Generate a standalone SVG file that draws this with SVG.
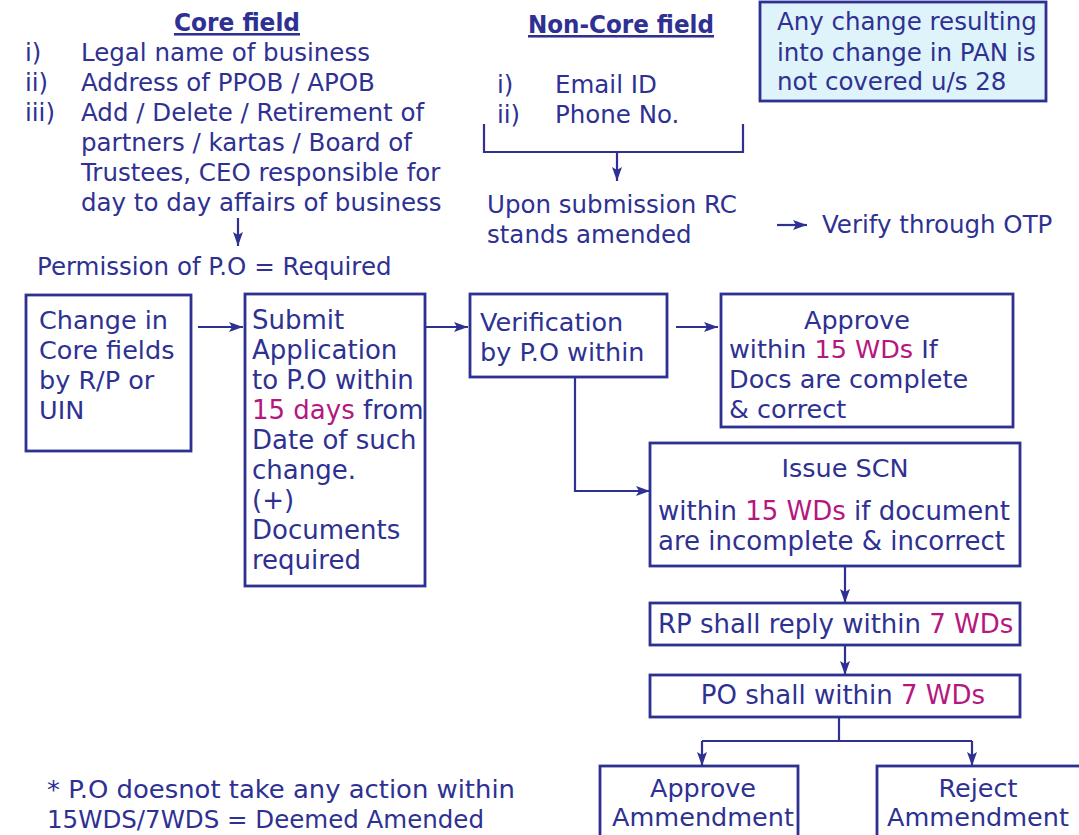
<svg xmlns="http://www.w3.org/2000/svg" width="1079" height="835" viewBox="0 0 1079 835">
<defs>
<marker id="ah" viewBox="0 0 14 10" refX="14" refY="5" markerWidth="14" markerHeight="10" markerUnits="userSpaceOnUse" orient="auto"><path d="M0,0 L14,5 L0,10 L3,5 z" fill="#2e3192"/></marker>
<style>
text{font-family:"DejaVu Sans","Liberation Sans",sans-serif;font-size:24.5px;fill:#2e3192}
.h{font-weight:bold;text-decoration:underline;font-size:25.5px}
.b{font-size:25.5px}
.l{font-size:26px}
.m{fill:#b5177f}
.box{fill:#fff;stroke:#2e3192;stroke-width:2.8}
.info{fill:#dff3fb;stroke:#2e3192;stroke-width:2.8}
.c{fill:none;stroke:#2e3192;stroke-width:2.2}
.mid{text-anchor:middle}
</style>
</defs>
<rect width="1079" height="835" fill="#fff"/>

<g id="core-field">
<text class="h" x="174" y="31" textLength="126" lengthAdjust="spacingAndGlyphs">Core field</text>
<text x="25" y="61">i)</text><text x="81" y="61">Legal name of business</text>
<text x="25" y="91">ii)</text><text x="81" y="91">Address of PPOB / APOB</text>
<text x="25" y="121">iii)</text><text x="81" y="121">Add / Delete / Retirement of</text>
<text x="81" y="151">partners / kartas / Board of</text>
<text x="81" y="181">Trustees, CEO responsible for</text>
<text x="81" y="211">day to day affairs of business</text>
<text x="37" y="275">Permission of P.O = Required</text>
</g>

<g id="non-core-field">
<text class="h" x="528" y="33" textLength="186" lengthAdjust="spacingAndGlyphs">Non-Core field</text>
<text x="497" y="93">i)</text><text x="555" y="93">Email ID</text>
<text x="497" y="123">ii)</text><text x="555" y="123">Phone No.</text>
<text x="487" y="213">Upon submission RC</text>
<text x="487" y="243">stands amended</text>
<text x="822" y="233">Verify through OTP</text>
</g>

<g id="pan-note">
<rect class="info" x="760" y="2" width="286" height="99"/>
<text x="777" y="30">Any change resulting</text>
<text x="777" y="61">into change in PAN is</text>
<text x="777" y="90">not covered u/s 28</text>
</g>

<g id="change-core">
<rect class="box" x="26" y="295" width="165" height="156"/>
<text class="b" x="39" y="329">Change in</text>
<text class="b" x="39" y="359">Core fields</text>
<text class="b" x="39" y="389">by R/P or</text>
<text class="b" x="39" y="419">UIN</text>
</g>

<g id="submit">
<rect class="box" x="245" y="294" width="180" height="292"/>
<text class="l" x="252" y="329">Submit</text>
<text class="l" x="252" y="359">Application</text>
<text class="l" x="252" y="389">to P.O within</text>
<text class="l" x="252" y="419"><tspan class="m">15 days</tspan> from</text>
<text class="l" x="252" y="449">Date of such</text>
<text class="l" x="252" y="479">change.</text>
<text class="l" x="252" y="509">(+)</text>
<text class="l" x="252" y="539">Documents</text>
<text class="l" x="252" y="569">required</text>
</g>

<g id="verification">
<rect class="box" x="470" y="294" width="197" height="83"/>
<text class="b" x="480" y="331">Verification</text>
<text class="b" x="480" y="361">by P.O within</text>
</g>

<g id="approve-15">
<rect class="box" x="721" y="294" width="292" height="133"/>
<text class="b mid" x="857" y="329">Approve</text>
<text class="b" x="729" y="358">within <tspan class="m">15 WDs</tspan> If</text>
<text class="b" x="729" y="388">Docs are complete</text>
<text class="b" x="729" y="418">&amp; correct</text>
</g>

<g id="issue-scn">
<rect class="box" x="650" y="443" width="370" height="123"/>
<text class="b mid" x="845" y="477">Issue SCN</text>
<text class="l" x="658" y="520">within <tspan class="m">15 WDs</tspan> if document</text>
<text class="l" x="658" y="550">are incomplete &amp; incorrect</text>
</g>

<g id="rp-reply">
<rect class="box" x="650" y="603" width="370" height="42"/>
<text class="l" x="658" y="633">RP shall reply within <tspan class="m">7 WDs</tspan></text>
</g>

<g id="po-decide">
<rect class="box" x="650" y="675" width="370" height="42"/>
<text class="l mid" x="843" y="704">PO shall within <tspan class="m">7 WDs</tspan></text>
</g>

<g id="approve-amend">
<rect class="box" x="600" y="766" width="198" height="80"/>
<text class="b mid" x="703" y="797">Approve</text>
<text class="b mid" x="703" y="826">Ammendment</text>
</g>

<g id="reject-amend">
<rect class="box" x="877" y="766" width="210" height="80"/>
<text class="b mid" x="978" y="797">Reject</text>
<text class="b mid" x="978" y="826">Ammendment</text>
</g>

<g id="footnote">
<text class="b" x="47" y="798" textLength="468" lengthAdjust="spacingAndGlyphs">* P.O doesnot take any action within</text>
<text class="b" x="47" y="828" textLength="437" lengthAdjust="spacingAndGlyphs">15WDS/7WDS = Deemed Amended</text>
</g>

<g id="connectors">
<path class="c" d="M238,218 V246" marker-end="url(#ah)"/>
<path class="c" d="M484,124 V152 H743 V124"/>
<path class="c" d="M617,152 V181" marker-end="url(#ah)"/>
<path class="c" d="M777,225 H807" marker-end="url(#ah)"/>
<path class="c" d="M198,327 H243" marker-end="url(#ah)"/>
<path class="c" d="M425,327 H468" marker-end="url(#ah)"/>
<path class="c" d="M676,327 H718" marker-end="url(#ah)"/>
<path class="c" d="M575,377 V491 H650" marker-end="url(#ah)"/>
<path class="c" d="M845,566 V603" marker-end="url(#ah)"/>
<path class="c" d="M845,645 V675" marker-end="url(#ah)"/>
<path class="c" d="M839,717 V741"/>
<path class="c" d="M702,741 H972"/>
<path class="c" d="M702,741 V766" marker-end="url(#ah)"/>
<path class="c" d="M972,741 V766" marker-end="url(#ah)"/>
</g>
</svg>
